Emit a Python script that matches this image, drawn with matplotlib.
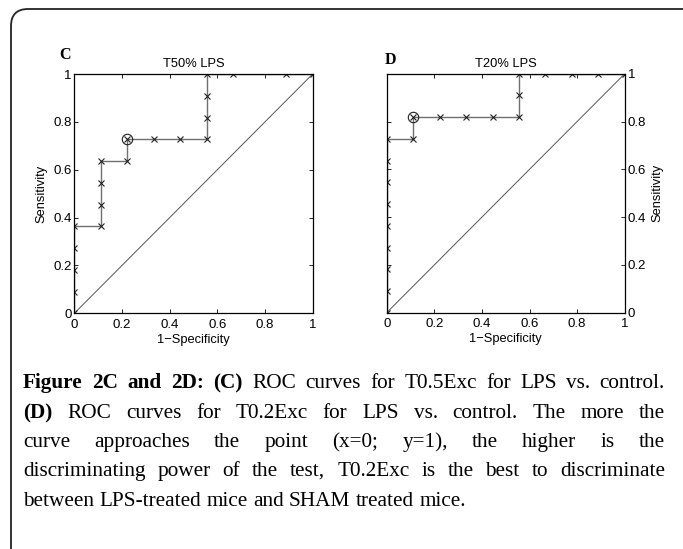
import matplotlib
matplotlib.use("Agg")
import matplotlib.pyplot as plt
from matplotlib.patches import FancyBboxPatch

# ROC points (1-specificity, sensitivity)
fpr_c = [0, 0, 0, 0, 0, 1/9, 1/9, 1/9, 1/9, 2/9, 2/9, 3/9, 4/9, 5/9, 5/9, 5/9, 5/9, 6/9, 8/9, 1]
tpr_c = [0, 1/11, 2/11, 3/11, 4/11, 4/11, 5/11, 6/11, 7/11, 7/11, 8/11, 8/11, 8/11, 8/11, 9/11, 10/11, 1, 1, 1, 1]
best_c = (2/9, 8/11)

fpr_d = [0, 0, 0, 0, 0, 0, 0, 0, 0, 1/9, 1/9, 2/9, 3/9, 4/9, 5/9, 5/9, 5/9, 6/9, 7/9, 8/9, 1]
tpr_d = [0, 1/11, 2/11, 3/11, 4/11, 5/11, 6/11, 7/11, 8/11, 8/11, 9/11, 9/11, 9/11, 9/11, 9/11, 10/11, 1, 1, 1, 1, 1]
best_d = (1/9, 9/11)

ticks = [0, 0.2, 0.4, 0.6, 0.8, 1]
tick_labels = ["0", "0.2", "0.4", "0.6", "0.8", "1"]

caption_lines = [
    [("Figure", True), ("2C", True), ("and", True), ("2D:", True), ("(C)", True), ("ROC", False),
     ("curves", False), ("for", False), ("T0.5Exc", False), ("for", False), ("LPS", False),
     ("vs.", False), ("control.", False)],
    [("(D)", True), ("ROC", False), ("curves", False), ("for", False), ("T0.2Exc", False), ("for", False),
     ("LPS", False), ("vs.", False), ("control.", False), ("The", False), ("more", False), ("the", False)],
    [(w, False) for w in "curve approaches the point (x=0; y=1), the higher is the".split()],
    [(w, False) for w in "discriminating power of the test, T0.2Exc is the best to discriminate".split()],
    [(w, False) for w in "between LPS-treated mice and SHAM treated mice.".split()],
]

W, H = 683, 549
fig = plt.figure(figsize=(W / 100, H / 100), dpi=100)
plt.rcParams["font.family"] = ["Liberation Sans", "DejaVu Sans"]

# rounded frame, only its top-left corner falls inside the image
frame = FancyBboxPatch((11 / W, -0.2), 1.3, 1.2 - 9 / H, boxstyle="round,pad=0,rounding_size=0.025",
                       transform=fig.transFigure, fill=False, edgecolor="#222222", linewidth=1.3,
                       mutation_aspect=W / H, clip_on=False)
fig.patches.append(frame)


def roc_panel(rect, fpr, tpr, best, title, letter, right):
    ax = fig.add_axes(rect)
    ax.plot([0, 1], [0, 1], color="#555555", linewidth=0.7)
    ax.plot(fpr, tpr, color="#707070", linewidth=1.0)
    ax.plot(fpr, tpr, linestyle="none", marker="x", color="#222222", markersize=5, markeredgewidth=0.8)
    ax.plot([best[0]], [best[1]], linestyle="none", marker="o", markerfacecolor="none",
            markeredgecolor="#222222", markersize=7.5, markeredgewidth=0.8)
    ax.set_xlim(0, 1)
    ax.set_ylim(0, 1)
    ax.set_xticks(ticks)
    ax.set_xticklabels(tick_labels)
    ax.set_yticks(ticks)
    ax.set_yticklabels(tick_labels)
    ax.tick_params(direction="in", top=True, right=True, length=3, width=0.6, labelsize=9.5, colors="black")
    ax.tick_params(axis="x", pad=4)
    ax.tick_params(axis="y", pad=2)
    if right:
        ax.tick_params(labelleft=False, labelright=True)
        ax.yaxis.set_label_position("right")
    for s in ax.spines.values():
        s.set_linewidth(0.9)
    ax.set_xlabel("1\u2212Specificity", fontsize=9.3, labelpad=2)
    ax.set_ylabel("Sensitivity", fontsize=9.3, labelpad=4)
    ax.set_title(title, fontsize=9.3, pad=5)
    if right:
        ax.text(0.014, 1.058, letter, transform=ax.transAxes, fontsize=11.5,
                fontweight="bold", family="Liberation Serif", ha="center", va="center")
    else:
        ax.text(-0.039, 1.08, letter, transform=ax.transAxes, fontsize=11.5,
                fontweight="bold", family="Liberation Serif", ha="center", va="center")
    return ax


roc_panel([0.1088, 0.4293, 0.349, 0.4359], fpr_c, tpr_c, best_c, "T50% LPS", "C", False)
roc_panel([0.5662, 0.4304, 0.3485, 0.4353], fpr_d, tpr_d, best_d, "T20% LPS", "D", True)

# justified caption
renderer = fig.canvas.get_renderer()
x_left, x_right = 23, 665
baselines = [388, 418, 447, 476, 506]
fsize = 15.3
for i, line in enumerate(caption_lines):
    texts = []
    for word, bold in line:
        t = fig.text(0, 0, word, fontsize=fsize, family="Liberation Serif",
                     fontweight="bold" if bold else "normal", va="baseline", ha="left",
                     transform=None)
        texts.append(t)
    widths = [t.get_window_extent(renderer).width for t in texts]
    last = i == len(caption_lines) - 1
    space = fsize * 0.25 * 100 / 72
    if not last:
        space = (x_right - x_left - sum(widths)) / (len(widths) - 1)
    x = x_left
    y = H - baselines[i]
    for t, w in zip(texts, widths):
        t.set_position((x, y))
        x += w + space

fig.savefig("out.png", dpi=100)
